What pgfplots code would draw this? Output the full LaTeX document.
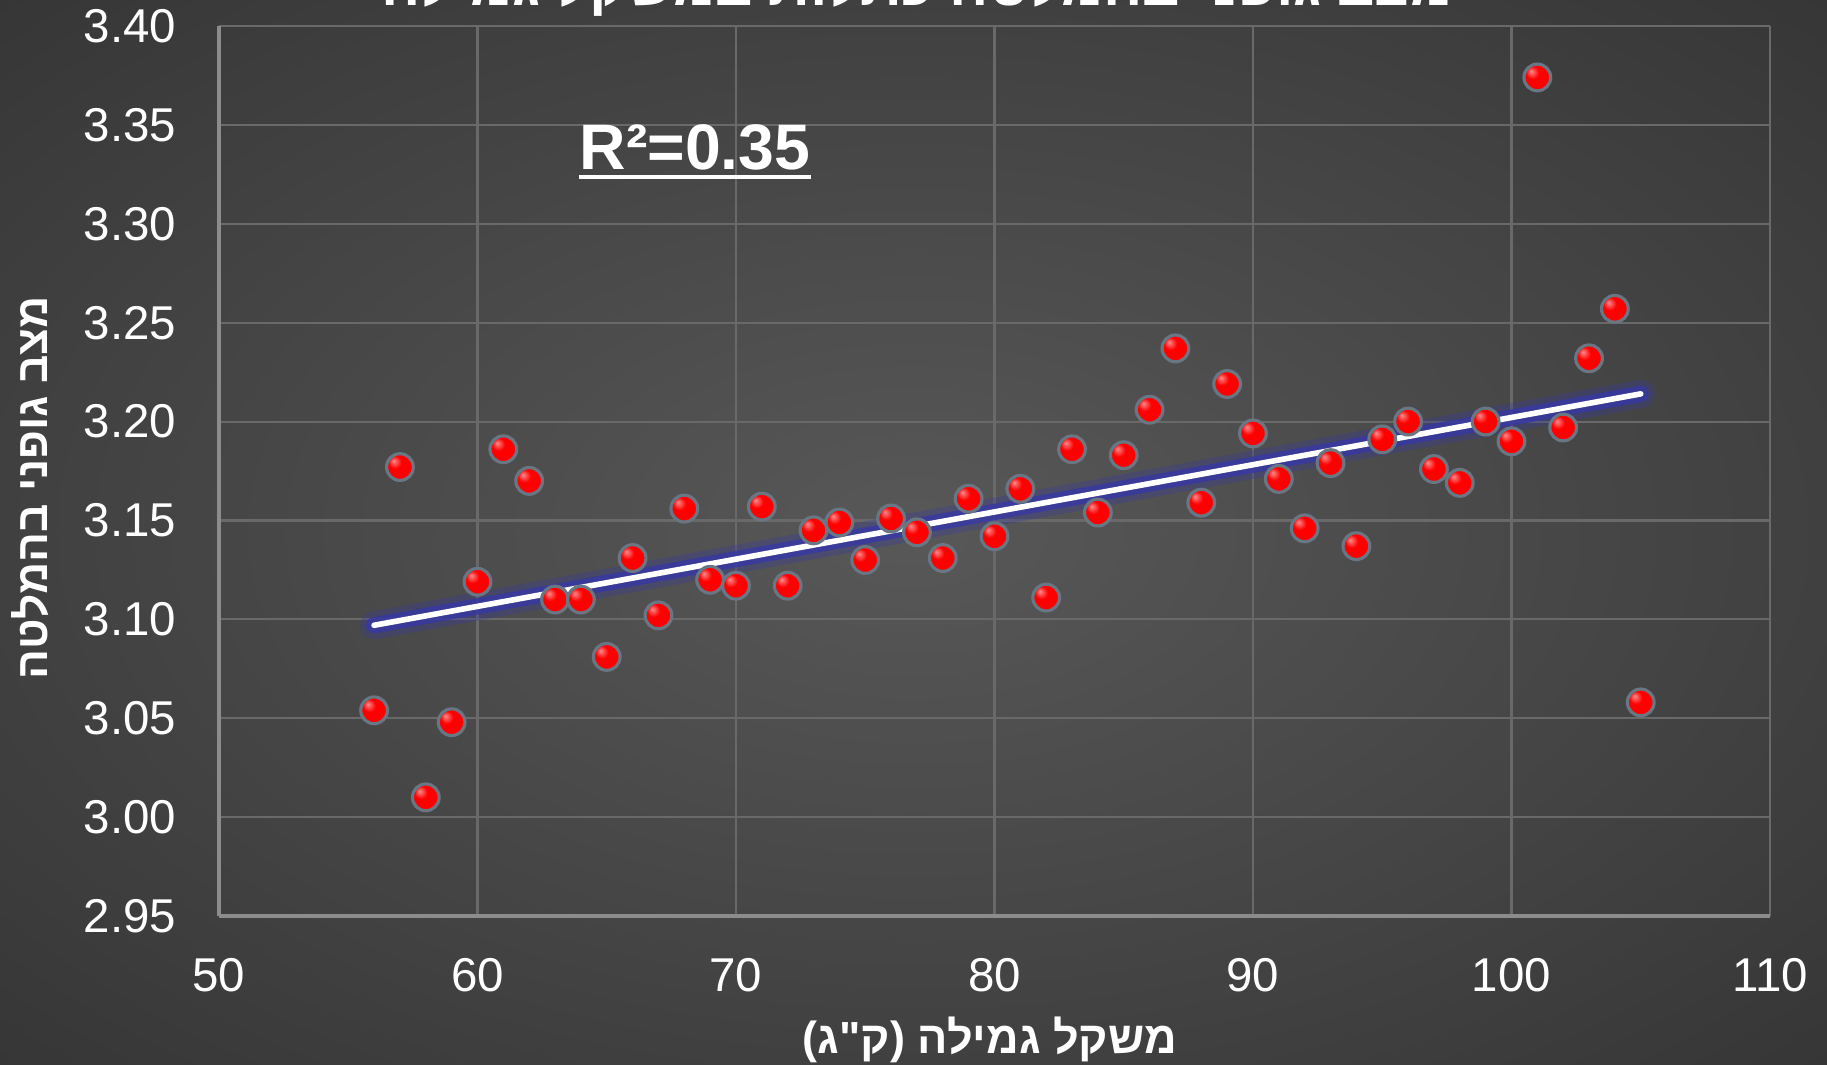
\documentclass[border=0pt]{standalone}
\usepackage{fontspec}
\setmainfont{Liberation Sans}
\newfontfamily\hebfont[Script=Hebrew]{Liberation Sans}
\TeXXeTstate=1
\usepackage{pgfplots}
\pgfplotsset{compat=1.18}
\usepackage{pgfplotstable}

\definecolor{bgin}{RGB}{88,88,88}
\definecolor{bgout}{RGB}{40,40,40}
\definecolor{gridc}{RGB}{105,105,105}
\definecolor{axc}{RGB}{140,140,140}
\definecolor{ringc}{RGB}{105,118,132}
\definecolor{glow}{RGB}{55,55,165}
\definecolor{ballhi}{RGB}{255,140,140}
\definecolor{balllo}{RGB}{205,0,0}

\pgfdeclareradialshading{bgshade}{\pgfpoint{0bp}{0bp}}{color(0bp)=(bgin); color(50bp)=(bgout); color(71bp)=(bgout)}
\pgfdeclareradialshading{redball}{\pgfpoint{-12bp}{12bp}}{color(0bp)=(ballhi); color(12bp)=(red); color(35bp)=(red); color(50bp)=(balllo)}

% red glossy marker with a grey ring
\pgfdeclareplotmark{redball}{%
  \pgfpathcircle{\pgfpointorigin}{\pgfplotmarksize}%
  \pgfshadepath{redball}{0}%
  \pgfusepathqstroke
}

% body condition at calving vs weaning weight
\pgfplotstableread{
x y
56 3.054
57 3.177
58 3.010
59 3.048
60 3.119
61 3.186
62 3.170
63 3.110
64 3.110
65 3.081
66 3.131
67 3.102
68 3.156
69 3.120
70 3.117
71 3.157
72 3.117
73 3.145
74 3.149
75 3.130
76 3.151
77 3.144
78 3.131
79 3.161
80 3.142
81 3.166
82 3.111
83 3.186
84 3.154
85 3.183
86 3.206
87 3.237
88 3.159
89 3.219
90 3.194
91 3.171
92 3.146
93 3.179
94 3.137
95 3.191
96 3.200
97 3.176
98 3.169
99 3.200
100 3.190
101 3.374
102 3.197
103 3.232
104 3.257
105 3.058
}\pts

\begin{document}
\begin{tikzpicture}
\shade[shading=bgshade] (-21.9mm,-14.8mm) rectangle (160.8mm,91.6mm);
\begin{axis}[
  at={(0,0)}, anchor=south west,
  scale only axis, width=155.1mm, height=89mm,
  xmin=50, xmax=110, ymin=2.95, ymax=3.40,
  xtick={50,60,70,80,90,100,110},
  ytick={2.95,3.00,3.05,3.10,3.15,3.20,3.25,3.30,3.35,3.40},
  scaled ticks=false,
  /pgf/number format/assume math mode=true,
  yticklabel style={/pgf/number format/fixed, /pgf/number format/fixed zerofill,
    /pgf/number format/precision=2, anchor=east, inner sep=0pt, xshift=-4.2mm},
  xticklabel style={anchor=north, inner sep=0pt, yshift=-4.2mm},
  ticklabel style={font=\fontsize{13.5}{16}\selectfont, text=white},
  major tick length=0pt,
  axis lines*=left,
  axis line style={-, draw=axc, line width=1.2pt},
  grid=major,
  grid style={draw=gridc, line width=0.6pt},
  xlabel={\hebfont\bfseries\beginR משקל גמילה (ק"ג)\endR},
  xlabel style={at={(axis description cs:0.497,-0.154)}, anchor=base,
    font=\fontsize{12.8}{16}\selectfont, text=white},
  ylabel={\hebfont\bfseries\beginR מצב גופני בהמלטה\endR},
  ylabel style={at={(axis description cs:-0.1219,0.481)}, anchor=center, rotate=0,
    font=\fontsize{12.6}{16}\selectfont, text=white},
]
\addplot[only marks, mark=redball, mark size=3.8pt,
  mark options={draw=ringc, line width=0.9pt}] table[x=x, y=y] {\pts};
% linear trend line with glow
\addplot[glow, line width=8pt, opacity=0.3, line cap=round] coordinates {(56,3.097) (105,3.214)};
\addplot[glow, line width=4.6pt, opacity=0.8, line cap=round] coordinates {(56,3.097) (105,3.214)};
\addplot[white, line width=1.6pt, line cap=round] coordinates {(56,3.097) (105,3.214)};
\node[name=r2, anchor=base west, inner sep=0pt, text=white,
  font=\fontsize{18.3}{22}\selectfont\bfseries] at (axis cs:63.93,3.3277) {R²=0.35};
\end{axis}
\draw[white, line width=1.1pt] ([yshift=-0.8mm]r2.base west) -- ([yshift=-0.8mm]r2.base east);
\node[anchor=base, inner sep=0pt, text=white, font=\fontsize{16.5}{20}\selectfont]
  at (69.8mm,91.1mm) {\hebfont\bfseries\beginR מצב גופני בהמלטה כתלות במשקל גמילה\endR};
\pgfresetboundingbox
\useasboundingbox (-21.9mm,-14.8mm) rectangle (160.8mm,91.6mm);
\end{tikzpicture}
\end{document}
